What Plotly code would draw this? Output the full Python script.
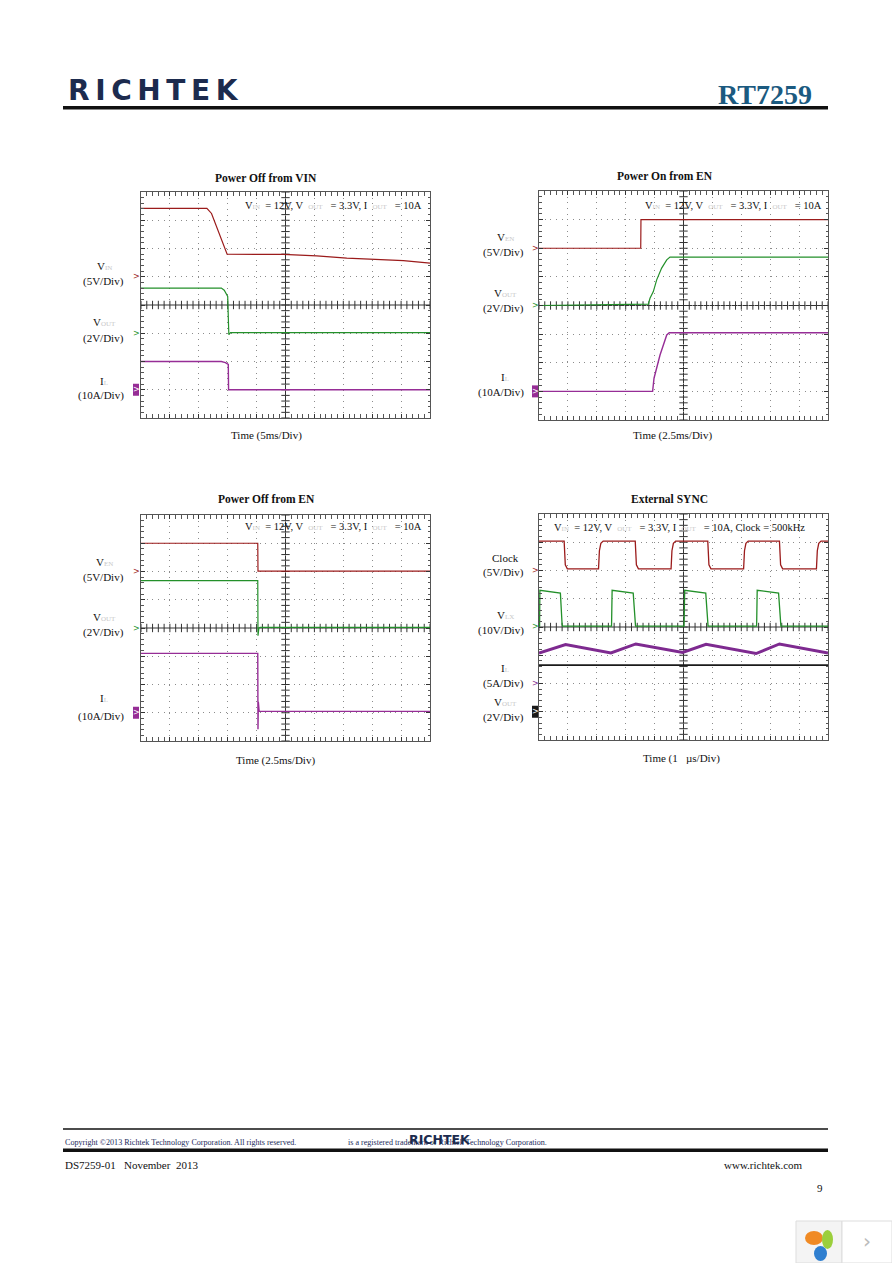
import numpy as np
import plotly.graph_objects as go

W, H = 892, 1263
SERIF = "Liberation Serif, Times New Roman, serif"

# ---------------- data (read from the scope shots) ----------------
# Power Off from VIN  (time in ms, 5 ms/div)
offvin_vin_t = [0, 11.4, 12.2, 13.0, 14.0, 14.9, 24.6, 30.4, 35.6, 45.4, 50]
offvin_vin_v = [12.1, 12.1, 11.2, 9.0, 6.3, 4.0, 3.95, 3.7, 3.3, 2.85, 2.4]
offvin_vout_t = [0, 13.9, 14.4, 15.0, 15.15, 15.2, 15.5, 50]
offvin_vout_v = [3.2, 3.2, 3.05, 2.6, 0.5, -0.1, 0.05, 0.05]
offvin_il_t = [0, 13.9, 14.6, 15.1, 15.15, 50]
offvin_il_a = [10.0, 10.0, 9.6, 9.0, 0.0, 0.0]

# Power On from EN  (time in ms, 2.5 ms/div)
onen_ven_t = [0, 8.8, 8.82, 25]
onen_ven_v = [0, 0, 5.0, 5.0]
onen_vout_t = [0, 9.46, 9.6, 9.89, 10.18, 10.61, 11.05, 11.33, 25]
onen_vout_v = [0, 0.1, 0.5, 0.97, 1.79, 2.61, 3.19, 3.38, 3.38]
onen_il_t = [0, 9.83, 9.95, 10.47, 11.05, 11.27, 25]
onen_il_a = [0, 0, 4.6, 12.7, 19.7, 20.5, 20.5]

# Power Off from EN  (time in ms, 2.5 ms/div)
offen_ven_t = [0, 10.1, 10.12, 25]
offen_ven_v = [5.0, 5.0, 0.05, 0.05]
offen_vout_t = [0, 10.1, 10.12, 10.2, 10.3, 25]
offen_vout_v = [3.35, 3.35, -0.55, 0.0, 0.05, 0.05]
offen_il_t = [0, 10.1, 10.12, 10.15, 10.22, 25]
offen_il_a = [21.0, 21.0, -5.8, 3.9, 0.5, 0.5]

# External SYNC  (time in us, 1 us/div)
sync_clk_t = [0, 0.87, 0.91, 0.98, 2.06, 2.09, 2.14, 2.22, 3.33, 3.37, 3.44,
              4.57, 4.60, 4.65, 4.73, 5.84, 5.88, 5.95, 7.08, 7.11, 7.16, 7.24,
              8.32, 8.36, 8.43, 9.60, 9.63, 9.68, 9.76, 10]
sync_clk_v = [5.2, 5.2, 1.0, 0.3, 0.3, 3.5, 4.8, 5.2, 5.2, 1.0, 0.3,
              0.3, 3.5, 4.8, 5.2, 5.2, 1.0, 0.3, 0.3, 3.5, 4.8, 5.2,
              5.2, 1.0, 0.3, 0.3, 3.5, 4.8, 5.2, 5.2]
sync_lx_t = [0, 0.02, 0.03, 0.74, 0.80, 0.82, 2.51, 2.53, 3.26, 3.32, 3.34,
             5.02, 5.04, 5.77, 5.83, 5.85, 7.53, 7.55, 8.29, 8.35, 8.37, 10]
sync_lx_v = [0.3, 0.3, 13.0, 12.0, 0.8, 0.3, 0.3, 13.0, 12.0, 0.8, 0.3,
             0.3, 13.0, 12.0, 0.8, 0.3, 0.3, 13.0, 12.0, 0.8, 0.3, 0.3]
sync_il_t = [0, 0.92, 2.49, 3.35, 4.97, 5.78, 7.51, 8.32, 10]
sync_il_a = [5.4, 6.9, 5.4, 7.0, 5.5, 6.95, 5.3, 7.0, 5.4]
sync_vout_t = [0, 10]
sync_vout_v = [3.3, 3.3]

# ---------------- styling helpers ----------------
def fx(p):
    return p / W

def fy(p):
    return 1 - p / H

RED = "#9b1b1b"
GREEN = "#23902a"
PURPLE = "#962d96"
PURPLE2 = "#7e2a90"
BLACK = "#1a1a1a"
LIGHT = "#c8c8c8"

def sub(s):
    return f"<span style='color:{LIGHT};font-size:7px'>{s}</span>"

COND = f"V{sub('IN')}  = 12V, V  {sub('OUT')}   = 3.3V, I  {sub('OUT')}   = 10A"

panels = [
    dict(title="Power Off from VIN", box=(141, 430, 192, 418), t_end=50, t_div=5,
         title_xy=(266, 178), time_label="Time (5ms/Div)", time_xy=(266, 436),
         cond=COND, cond_xy=(243, 205), lab_x=104, scale_x=126, mark_x=136,
         channels=[
             dict(t=offvin_vin_t, v=offvin_vin_v, color=RED, w=1.2, gnd=5, per=5,
                  name=f"V{sub('IN')}", scale="(5V/Div)", ny=266, sy=282, filled=False),
             dict(t=offvin_vout_t, v=offvin_vout_v, color=GREEN, w=1.2, gnd=3, per=2,
                  name=f"V{sub('OUT')}", scale="(2V/Div)", ny=322, sy=338, filled=False),
             dict(t=offvin_il_t, v=offvin_il_a, color=PURPLE, w=1.4, gnd=1, per=10,
                  name=f"I{sub('L')}", scale="(10A/Div)", ny=381, sy=395, filled=True),
         ]),
    dict(title="Power On from EN", box=(539, 828, 191, 420), t_end=25, t_div=2.5,
         title_xy=(665, 176), time_label="Time (2.5ms/Div)", time_xy=(672, 436),
         cond=COND, cond_xy=(643, 205), lab_x=505, scale_x=526, mark_x=535,
         channels=[
             dict(t=onen_ven_t, v=onen_ven_v, color=RED, w=1.2, gnd=6, per=5,
                  name=f"V{sub('EN')}", scale="(5V/Div)", ny=237, sy=252, filled=False),
             dict(t=onen_vout_t, v=onen_vout_v, color=GREEN, w=1.2, gnd=4, per=2,
                  name=f"V{sub('OUT')}", scale="(2V/Div)", ny=293, sy=308, filled=False),
             dict(t=onen_il_t, v=onen_il_a, color=PURPLE, w=1.4, gnd=1, per=10,
                  name=f"I{sub('L')}", scale="(10A/Div)", ny=377, sy=393, filled=True),
         ]),
    dict(title="Power Off from EN", box=(141, 430, 515, 741), t_end=25, t_div=2.5,
         title_xy=(266, 499), time_label="Time (2.5ms/Div)", time_xy=(275, 760),
         cond=COND, cond_xy=(243, 526), lab_x=104, scale_x=126, mark_x=136,
         channels=[
             dict(t=offen_ven_t, v=offen_ven_v, color=RED, w=1.2, gnd=6, per=5,
                  name=f"V{sub('EN')}", scale="(5V/Div)", ny=562, sy=577, filled=False),
             dict(t=offen_vout_t, v=offen_vout_v, color=GREEN, w=1.2, gnd=4, per=2,
                  name=f"V{sub('OUT')}", scale="(2V/Div)", ny=617, sy=632, filled=False),
             dict(t=offen_il_t, v=offen_il_a, color=PURPLE, w=1.4, gnd=1, per=10,
                  name=f"I{sub('L')}", scale="(10A/Div)", ny=698, sy=716, filled=True),
         ]),
    dict(title="External SYNC", box=(539, 828, 514, 740), t_end=10, t_div=1,
         title_xy=(669, 499), time_label="Time (1   µs/Div)", time_xy=(681, 758),
         cond=COND + ", Clock = 500kHz", cond_xy=(552, 527), lab_x=505, scale_x=526, mark_x=535,
         channels=[
             dict(t=sync_clk_t, v=sync_clk_v, color=RED, w=1.3, gnd=6, per=5,
                  name="Clock", scale="(5V/Div)", ny=558, sy=572, filled=False),
             dict(t=sync_lx_t, v=sync_lx_v, color=GREEN, w=1.3, gnd=4, per=10,
                  name=f"V{sub('LX')}", scale="(10V/Div)", ny=615, sy=630, filled=False),
             dict(t=sync_il_t, v=sync_il_a, color=PURPLE2, w=3.0, gnd=2, per=5,
                  name=f"I{sub('L')}", scale="(5A/Div)", ny=668, sy=683, filled=False),
             dict(t=sync_vout_t, v=sync_vout_v, color=BLACK, w=1.8, gnd=1, per=2,
                  name=f"V{sub('OUT')}", scale="(2V/Div)", ny=702, sy=717, filled=True),
         ]),
]

fig = go.Figure()
layout = dict(width=W, height=H, margin=dict(l=0, r=0, t=0, b=0),
              paper_bgcolor="white", plot_bgcolor="white", showlegend=False)
annotations = []
shapes = []

def ann(text, x, y, size=11, color="#111", xanchor="center", bold=False, family=SERIF, **kw):
    if bold:
        text = f"<b>{text}</b>"
    d = dict(text=text, x=fx(x), y=fy(y), xref="paper", yref="paper", showarrow=False,
             xanchor=xanchor, yanchor="middle", font=dict(family=family, size=size, color=color))
    d.update(kw)
    annotations.append(d)

axis_common = dict(showticklabels=False, zeroline=False, showline=True, linecolor="#555",
                   linewidth=1, mirror="allticks", ticks="inside", ticklen=4, tickcolor="#333",
                   tickwidth=1, showgrid=True, gridcolor="#8c8c8c", gridwidth=1,
                   griddash="1px,4.65px", fixedrange=True)

next_axis = 5
for i, p in enumerate(panels, start=1):
    xname = "x" if i == 1 else f"x{i}"
    yname = "y" if i == 1 else f"y{i}"
    xkey = "xaxis" if i == 1 else f"xaxis{i}"
    ykey = "yaxis" if i == 1 else f"yaxis{i}"
    x0, x1, y0, y1 = p["box"]
    layout[xkey] = dict(axis_common, domain=[fx(x0), fx(x1)], range=[0, p["t_end"]],
                        anchor=yname, dtick=p["t_div"],
                        minor=dict(dtick=p["t_div"] / 5, ticks="inside", ticklen=2.5,
                                   tickcolor="#555", showgrid=False))
    layout[ykey] = dict(axis_common, domain=[fy(y1), fy(y0)], range=[0, 8], anchor=xname,
                        dtick=1, minor=dict(dtick=0.2, ticks="inside", ticklen=2.5,
                                            tickcolor="#555", showgrid=False))
    # centre graticule lines
    mid = p["t_end"] / 2
    shapes.append(dict(type="line", xref=xname, yref=f"{yname} domain", x0=mid, x1=mid,
                       y0=0, y1=1, line=dict(color="#333", width=1), layer="below"))
    shapes.append(dict(type="line", xref=f"{xname} domain", yref=yname, x0=0, x1=1,
                       y0=4, y1=4, line=dict(color="#333", width=1), layer="below"))
    tx = np.arange(0, p["t_end"] + 1e-9, p["t_div"] / 5)
    fig.add_trace(go.Scatter(x=tx, y=[4] * len(tx), xaxis=xname, yaxis=yname, mode="markers",
                             marker=dict(symbol="line-ns", size=6, line=dict(color="#333", width=1)),
                             hoverinfo="skip"))
    ty = np.arange(0, 8 + 1e-9, 0.2)
    fig.add_trace(go.Scatter(x=[mid] * len(ty), y=ty, xaxis=xname, yaxis=yname, mode="markers",
                             marker=dict(symbol="line-ew", size=6, line=dict(color="#333", width=1)),
                             hoverinfo="skip"))
    # channels
    for ch in p["channels"]:
        k = next_axis
        next_axis += 1
        cy = f"y{k}"
        layout[f"yaxis{k}"] = dict(overlaying=yname, anchor=xname, visible=False, fixedrange=True,
                                   range=[-ch["gnd"] * ch["per"], (8 - ch["gnd"]) * ch["per"]])
        fig.add_trace(go.Scatter(x=ch["t"], y=ch["v"], xaxis=xname, yaxis=cy, mode="lines",
                                 line=dict(color=ch["color"], width=ch["w"]), hoverinfo="skip"))
        # labels
        ann(ch["name"], p["lab_x"], ch["ny"], size=11)
        ann(ch["scale"], p["scale_x"], ch["sy"], size=11, xanchor="right")
        # ground marker
        mx = p["mark_x"]
        if ch["filled"]:
            shapes.append(dict(type="rect", xref="paper", yref=cy, x0=fx(mx - 3), x1=fx(mx + 3),
                               ysizemode="pixel", yanchor=0, y0=-6, y1=6,
                               fillcolor=ch["color"], line=dict(width=0)))
            annotations.append(dict(text=">", x=fx(mx), y=0, xref="paper", yref=cy, showarrow=False,
                                    xanchor="center", yanchor="middle",
                                    font=dict(family="DejaVu Sans", size=8, color="white")))
        else:
            annotations.append(dict(text=">", x=fx(mx), y=0, xref="paper", yref=cy, showarrow=False,
                                    xanchor="center", yanchor="middle",
                                    font=dict(family="DejaVu Sans", size=8, color=ch["color"])))
    # texts
    ann(p["title"], *p["title_xy"], size=11.5, bold=True)
    ann(p["time_label"], *p["time_xy"], size=11)
    ann(p["cond"], *p["cond_xy"], size=10.5, xanchor="left")

# ---------------- page header ----------------
ann("R\u2009I\u2009C\u2009H\u2009T\u2009E\u2009K", 66, 90, size=28, color="#1c2b4e",
    xanchor="left", bold=True, family="DejaVu Sans")
ann("RT7259", 716, 95, size=28, color="#1b5a80", xanchor="left", bold=True)
shapes.append(dict(type="rect", xref="paper", yref="paper", x0=fx(63), x1=fx(828),
                   y0=fy(109.5), y1=fy(106), fillcolor="#111", line=dict(width=0)))

# ---------------- page footer ----------------
shapes.append(dict(type="line", xref="paper", yref="paper", x0=fx(63), x1=fx(828),
                   y0=fy(1129), y1=fy(1129), line=dict(color="#111", width=1.5)))
shapes.append(dict(type="rect", xref="paper", yref="paper", x0=fx(63), x1=fx(828),
                   y0=fy(1152), y1=fy(1148.5), fillcolor="#111", line=dict(width=0)))
ann("Copyright \u00a92013 Richtek Technology Corporation. All rights reserved.", 63, 1142,
    size=8.1, color="#1a2a5a", xanchor="left")
ann("is a registered trademark of Richtek Technology Corporation.", 346, 1142,
    size=8.1, color="#1a2a5a", xanchor="left")
ann("RICHTEK", 407, 1139, size=12.5, color="#1c2b4e", xanchor="left", bold=True,
    family="DejaVu Sans")
ann("DS7259-01   November  2013", 63, 1165, size=11, xanchor="left")
ann("www.richtek.com", 805, 1165, size=11, xanchor="right")
ann("9", 825, 1188, size=11, xanchor="right")

# ---------------- viewer widget in the corner ----------------
shapes.append(dict(type="rect", xref="paper", yref="paper", x0=fx(796), x1=fx(842),
                   y0=fy(1263), y1=fy(1221), fillcolor="#f4f4f4", line=dict(color="#dddddd", width=1)))
shapes.append(dict(type="rect", xref="paper", yref="paper", x0=fx(842), x1=fx(892),
                   y0=fy(1263), y1=fy(1221), fillcolor="#ffffff", line=dict(color="#dddddd", width=1)))
shapes.append(dict(type="circle", xref="paper", yref="paper", x0=fx(805), x1=fx(823),
                   y0=fy(1245), y1=fy(1231), fillcolor="#f08a24", line=dict(width=0)))
shapes.append(dict(type="circle", xref="paper", yref="paper", x0=fx(822), x1=fx(833),
                   y0=fy(1249), y1=fy(1230), fillcolor="#9bcf3c", line=dict(width=0)))
shapes.append(dict(type="circle", xref="paper", yref="paper", x0=fx(814), x1=fx(827),
                   y0=fy(1261), y1=fy(1246), fillcolor="#2f7fd0", line=dict(width=0)))
ann("\u203a", 867, 1241, size=20, color="#bbbbbb", family="DejaVu Sans")

layout["annotations"] = annotations
layout["shapes"] = shapes
fig.update_layout(**layout)
fig.write_html("out.html", config={"displayModeBar": False},
               post_script="document.body.style.margin='0';document.body.style.overflow='hidden';")
